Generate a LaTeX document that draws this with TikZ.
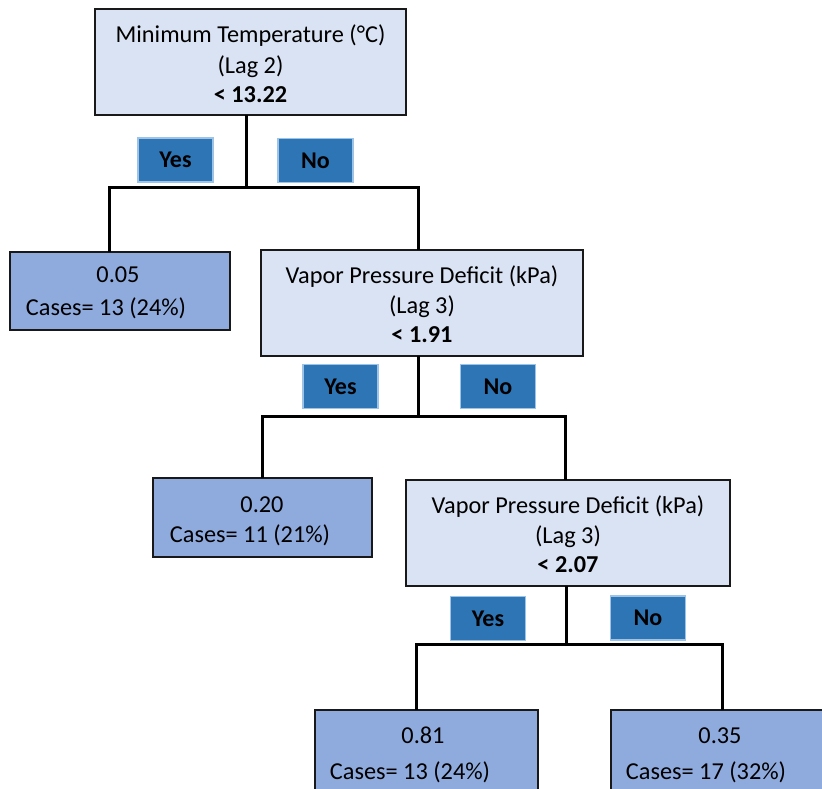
\documentclass[tikz,border=0pt]{standalone}
\usepackage{fontspec}
\setmainfont{Carlito}
\definecolor{splitfill}{HTML}{DAE3F3}
\definecolor{leaffill}{HTML}{8FAADC}
\definecolor{ansfill}{HTML}{2E75B6}
\definecolor{ansdraw}{HTML}{9DC3E6}
\begin{document}
\begin{tikzpicture}[x=1pt,y=-1pt,
  splitbox/.style={draw=black!90,line width=1.4pt,fill=splitfill,inner sep=0pt},
  leafbox/.style={draw=black!90,line width=1.4pt,fill=leaffill,inner sep=0pt},
  ansbox/.style={draw=ansdraw,line width=1.4pt,fill=ansfill,inner sep=0pt,
     minimum width=75pt,minimum height=44pt,font=\fontsize{24}{28}\selectfont\bfseries},
  txt/.style={anchor=base,inner sep=0pt,font=\fontsize{24.3}{28}\selectfont},
  btxt/.style={txt,font=\fontsize{24.3}{28}\selectfont\bfseries},
  conn/.style={line width=3pt,black}]
\useasboundingbox (0,0) rectangle (822,788);
% decision nodes
\node[splitbox,minimum width=311pt,minimum height=106pt] (n1) at (250.5,62) {};
\node[splitbox,minimum width=322pt,minimum height=106pt] (n2) at (422,303) {};
\node[splitbox,minimum width=324pt,minimum height=106pt] (n3) at (568,533) {};
% leaves
\node[leafbox,minimum width=220pt,minimum height=78pt] (l1) at (120,291) {};
\node[leafbox,minimum width=219pt,minimum height=79pt] (l2) at (262.5,517.5) {};
\node[leafbox,minimum width=223pt,minimum height=90pt] (l3) at (426.5,755) {};
\node[leafbox,minimum width=223pt,minimum height=90pt] (l4) at (722.5,755) {};
% texts
\node[txt] (t1a) at (250.5,42) {Minimum Temperature (°C)};
\node[txt] (t1b) at (250.5,73) {(Lag 2)};
\node[btxt] (t1c) at (250.5,102) {< 13.22};
\node[txt] (t2a) at (422,283) {Vapor Pressure Deficit (kPa)};
\node[txt] (t2b) at (422,313) {(Lag 3)};
\node[btxt] (t2c) at (422,342) {< 1.91};
\node[txt] (t3a) at (568,513) {Vapor Pressure Deficit (kPa)};
\node[txt] (t3b) at (568,543) {(Lag 3)};
\node[btxt] (t3c) at (568,572) {< 2.07};
\node[txt] (v1) at (118,282) {0.05};
\node[txt] (c1) at (106,315) {Cases= 13 (24\%)};
\node[txt] (v2) at (262,512) {0.20};
\node[txt] (c2) at (250,542) {Cases= 11 (21\%)};
\node[txt] (v3) at (423,743) {0.81};
\node[txt] (c3) at (410,779) {Cases= 13 (24\%)};
\node[txt] (v4) at (720,743) {0.35};
\node[txt] (c4) at (706,779) {Cases= 17 (32\%)};
% answer labels
\node[ansbox] (y1) at (175.5,160) {Yes};
\node[ansbox] (o1) at (315.5,160.5) {No};
\node[ansbox] (y2) at (340.5,386.5) {Yes};
\node[ansbox] (o2) at (498,386.5) {No};
\node[ansbox] (y3) at (488,618.5) {Yes};
\node[ansbox] (o3) at (648,618) {No};
% connector points
\coordinate (s1) at (246,115);
\coordinate (j1) at (246,187);
\coordinate (d1a) at (109,252);
\coordinate (d1b) at (418,250);
\coordinate (s2) at (418,356);
\coordinate (j2) at (418,416);
\coordinate (d2a) at (262,478);
\coordinate (d2b) at (565,480);
\coordinate (s3) at (566,586);
\coordinate (j3) at (566,644);
\coordinate (d3a) at (416,710);
\coordinate (d3b) at (722,710);
\draw[conn] (s1) -- (j1);
\draw[conn] (d1a) |- (j1) -| (d1b);
\draw[conn] (s2) -- (j2);
\draw[conn] (d2a) |- (j2) -| (d2b);
\draw[conn] (s3) -- (j3);
\draw[conn] (d3a) |- (j3) -| (d3b);
\end{tikzpicture}
\end{document}
